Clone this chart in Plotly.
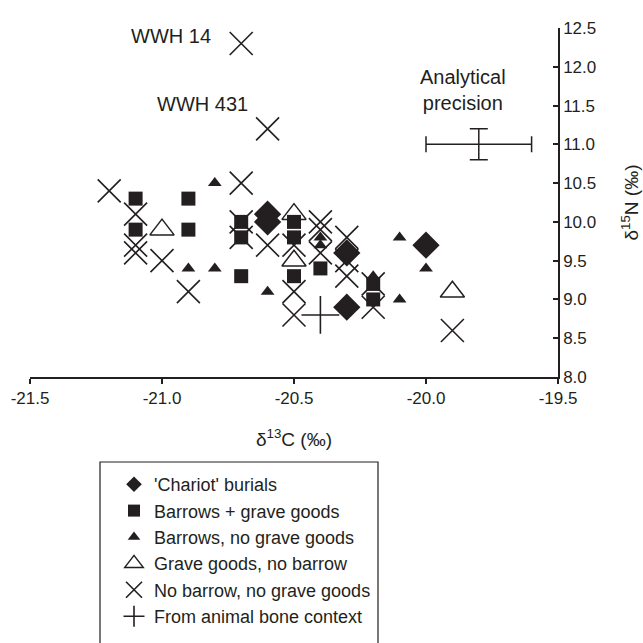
import plotly.graph_objects as go

# Carbon (x) and nitrogen (y) isotope values, per-mil, grouped by burial type
chariot_c = [-20.6, -20.6, -20.3, -20.3, -20.0]
chariot_n = [10.1, 10.0, 9.6, 8.9, 9.7]

barrow_goods_c = [-21.1, -21.1, -20.9, -20.9, -20.7, -20.7, -20.7, -20.5, -20.5, -20.5, -20.4, -20.2, -20.2]
barrow_goods_n = [10.3, 9.9, 10.3, 9.9, 10.0, 9.8, 9.3, 10.0, 9.8, 9.3, 9.4, 9.2, 9.0]

barrow_nogoods_c = [-20.8, -20.9, -20.8, -20.6, -20.4, -20.4, -20.2, -20.1, -20.1, -20.0]
barrow_nogoods_n = [10.5, 9.4, 9.4, 9.1, 9.8, 9.7, 9.3, 9.8, 9.0, 9.4]

goods_nobarrow_c = [-21.0, -20.5, -20.5, -19.9]
goods_nobarrow_n = [9.9, 10.1, 9.5, 9.1]

neither_c = [-20.7, -20.6, -21.2, -21.1, -21.1, -21.1, -21.0, -20.9, -20.7, -20.7, -20.7, -20.6,
             -20.5, -20.5, -20.5, -20.4, -20.4, -20.4, -20.3, -20.3, -20.3, -20.2, -20.2, -19.9]
neither_n = [12.3, 11.2, 10.4, 10.1, 9.7, 9.6, 9.5, 9.1, 10.5, 10.0, 9.8, 9.7,
             9.7, 9.1, 8.8, 10.0, 9.9, 9.6, 9.8, 9.5, 9.3, 9.2, 8.9, 8.6]

animal_c = [-20.4]
animal_n = [8.8]

# Analytical precision marker (centre and +/- error)
prec_c, prec_n = [-19.8], [11.0]
prec_err_c, prec_err_n = 0.2, 0.2

labels = ["'Chariot' burials", "Barrows + grave goods", "Barrows, no grave goods",
          "Grave goods, no barrow", "No barrow, no grave goods", "From animal bone context"]

x_ticks = [-21.5, -21.0, -20.5, -20.0, -19.5]
x_ticklabels = ["-21.5", "-21.0", "-20.5", "-20.0", "-19.5"]
y_ticks = [8.0, 8.5, 9.0, 9.5, 10.0, 10.5, 11.0, 11.5, 12.0, 12.5]
y_ticklabels = ["8.0", "8.5", "9.0", "9.5", "10.0", "10.5", "11.0", "11.5", "12.0", "12.5"]

INK = "#231f20"
FONT = "Liberation Sans, Arial, sans-serif"

# Plot-area geometry in pixels (used for paper-coordinate placement)
L, R, T, B = 30, 85, 28, 266
PW, PH = 643 - L - R, 643 - T - B


def px_x(px):
    return (px - L) / PW


def px_y(py):
    return (643 - B - py) / PH


series = [
    (chariot_c, chariot_n, dict(symbol="diamond", size=21, color=INK, line=dict(width=0)), dict(size=12)),
    (barrow_goods_c, barrow_goods_n, dict(symbol="square", size=14, color=INK, line=dict(width=0)), dict(size=12)),
    (barrow_nogoods_c, barrow_nogoods_n, dict(symbol="triangle-up", size=12, color=INK, line=dict(width=0)), dict(size=11)),
    (goods_nobarrow_c, goods_nobarrow_n, dict(symbol="triangle-up-open", size=21, color=INK, line=dict(width=1.5, color=INK)), dict(size=16)),
    (neither_c, neither_n, dict(symbol="x-thin", size=23, color=INK, line=dict(width=1.6, color=INK)), dict(size=16)),
    (animal_c, animal_n, dict(symbol="cross-thin", size=27, color=INK, line=dict(width=1.6, color=INK)), dict(size=15)),
]

fig = go.Figure()

for (xs, ys, mk, leg_mk), name in zip(series, labels):
    fig.add_trace(go.Scatter(x=xs, y=ys, mode="markers", marker=mk, name=name,
                             legendgroup=name, showlegend=False, cliponaxis=False))
    legend_marker = dict(mk)
    legend_marker.update(leg_mk)
    fig.add_trace(go.Scatter(x=[None], y=[None], mode="markers", marker=legend_marker,
                             name=name, legendgroup=name, showlegend=True))

fig.add_trace(go.Scatter(
    x=prec_c, y=prec_n, mode="markers", marker=dict(size=1, color="rgba(0,0,0,0)"),
    error_x=dict(type="constant", value=prec_err_c, color=INK, thickness=1.5, width=8),
    error_y=dict(type="constant", value=prec_err_n, color=INK, thickness=1.5, width=9),
    showlegend=False, hoverinfo="skip"))

annot_font = dict(size=20, color=INK, family=FONT)
fig.add_annotation(x=-20.966, y=px_y(23), xref="x", yref="paper", text="WWH 14",
                   showarrow=False, font=annot_font)
fig.add_annotation(x=-20.845, y=11.52, xref="x", yref="y", text="WWH 431",
                   showarrow=False, font=annot_font)
fig.add_annotation(x=-19.86, y=11.70, xref="x", yref="y", text="Analytical<br>precision",
                   showarrow=False, font=annot_font, align="center")

# Border around the legend
fig.add_shape(type="rect", xref="paper", yref="paper",
              x0=px_x(100), x1=px_x(378), y0=px_y(650), y1=px_y(462),
              line=dict(color=INK, width=1.2), fillcolor="rgba(0,0,0,0)")

fig.update_xaxes(range=[-21.5, -19.5], tickvals=x_ticks, ticktext=x_ticklabels,
                 showline=True, linecolor=INK, linewidth=1.5, ticks="outside",
                 ticklen=5, tickwidth=1.5, tickcolor=INK, showgrid=False, zeroline=False,
                 tickfont=dict(size=17, color=INK, family=FONT),
                 title=dict(text="δ<sup>13</sup>C (‰)", font=dict(size=19, color=INK, family=FONT), standoff=26))
fig.update_yaxes(range=[8, 12.5], tickvals=y_ticks, ticktext=y_ticklabels, side="right",
                 showline=True, linecolor=INK, linewidth=1.5, ticks="inside",
                 ticklen=5, tickwidth=1.5, tickcolor=INK, showgrid=False, zeroline=False,
                 tickfont=dict(size=17, color=INK, family=FONT),
                 title=dict(text="δ<sup>15</sup>N (‰)", font=dict(size=19, color=INK, family=FONT), standoff=29))

fig.update_layout(
    width=643, height=643,
    margin=dict(l=L, r=R, t=T, b=B, autoexpand=False),
    paper_bgcolor="white", plot_bgcolor="white",
    font=dict(family=FONT, color=INK),
    legend=dict(x=px_x(114), y=px_y(466), xanchor="left", yanchor="top",
                font=dict(size=18, color=INK, family=FONT), bgcolor="rgba(0,0,0,0)",
                borderwidth=0, tracegroupgap=0),
)

fig.write_html("out.html")
